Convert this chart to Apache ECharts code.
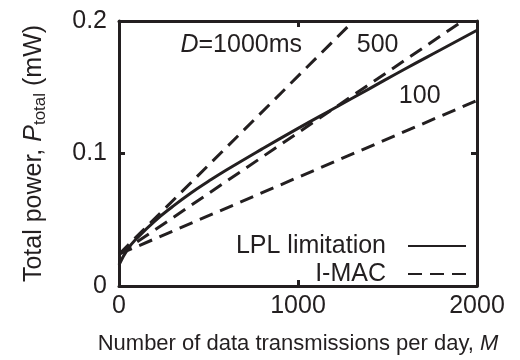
<!DOCTYPE html>
<html>
<head>
<meta charset="utf-8">
<script src="https://cdn.jsdelivr.net/npm/echarts@6/dist/echarts.min.js"></script>
<style>
    html, body { margin: 0; padding: 0; background: #fff; }
    #chart { width: 520px; height: 360px; }
</style>
</head>
<body>
<div id="chart"></div>
<script>
    // LPL limitation (solid curve)
    const lplM = [0, 50, 100, 200, 300, 400, 500, 600, 800, 1000, 1200, 1400, 1600, 1800, 2000]
    const lplP = [0.016, 0.028, 0.036, 0.049, 0.060, 0.070, 0.079, 0.0875, 0.1035, 0.119, 0.134, 0.149, 0.164, 0.1785, 0.193]

    // I-MAC straight lines, end points
    const imac1000M = [0, 1310]
    const imac1000P = [0.024, 0.2]
    const imac500M = [0, 1920]
    const imac500P = [0.024, 0.2]
    const imac100M = [0, 2000]
    const imac100P = [0.024, 0.140]

    const xTicks = [0, 1000, 2000]
    const yTicks = [0, 0.1, 0.2]

    const ink = '#231f20'
    const font = 'Liberation Sans, Arial, sans-serif'
    const dash = [14, 8]

    const pairs = (xs, ys) => xs.map((x, i) => [x, ys[i]])

    const chart = echarts.init(document.getElementById('chart'))

    const axisLine = { show: true, onZero: false, lineStyle: { color: ink, width: 3 } }
    const axisTick = { show: true, inside: true, length: 6, lineStyle: { color: ink, width: 3 } }

    function note (text, x, y) {
        return {
            symbol: 'circle',
            symbolSize: 1,
            itemStyle: { color: 'rgba(0,0,0,0)' },
            data: [{
                coord: [x, y],
                label: {
                    show: true,
                    position: 'inside',
                    formatter: text,
                    color: ink,
                    fontFamily: font,
                    fontSize: 25,
                    rich: {
                        i: { fontStyle: 'italic', fontSize: 25, fontFamily: font, color: ink }
                    }
                }
            }]
        }
    }

    chart.setOption({
        animation: false,
        textStyle: { fontFamily: font, color: ink },
        grid: { left: 119, right: 43, top: 21, bottom: 69, containLabel: false },
        legend: {
            data: ['LPL limitation', 'I-MAC'],
            orient: 'vertical',
            align: 'right',
            right: 48,
            top: 227,
            itemWidth: 58,
            itemHeight: 14,
            itemGap: 0,
            selectedMode: false,
            itemStyle: { opacity: 0 },
            textStyle: { fontFamily: font, fontSize: 25, color: ink, lineHeight: 28, padding: [0, 17, 0, 0] }
        },
        xAxis: [{
            type: 'value',
            min: xTicks[0],
            max: xTicks[xTicks.length - 1],
            interval: 1000,
            position: 'bottom',
            axisLine: axisLine,
            axisTick: axisTick,
            splitLine: { show: false },
            axisLabel: { fontFamily: font, fontSize: 25, color: ink, margin: 8, formatter: v => String(v) },
            name: 'Number of data transmissions per day, {i|M}',
            nameLocation: 'middle',
            nameGap: 47,
            nameTextStyle: {
                fontFamily: font, fontSize: 22, color: ink,
                rich: { i: { fontStyle: 'italic', fontFamily: font, fontSize: 22, color: ink } }
            }
        }, {
            type: 'value',
            min: xTicks[0],
            max: xTicks[xTicks.length - 1],
            interval: 1000,
            position: 'top',
            axisLine: axisLine,
            axisTick: axisTick,
            axisLabel: { show: false },
            splitLine: { show: false }
        }],
        yAxis: [{
            type: 'value',
            min: yTicks[0],
            max: yTicks[yTicks.length - 1],
            interval: 0.1,
            position: 'left',
            axisLine: axisLine,
            axisTick: axisTick,
            splitLine: { show: false },
            axisLabel: { fontFamily: font, fontSize: 25, color: ink, margin: 12 },
            name: 'Total power, {i|P}{sub|total} (mW)',
            nameLocation: 'middle',
            nameRotate: 90,
            nameGap: 70,
            nameTextStyle: {
                fontFamily: font, fontSize: 25, color: ink, lineHeight: 30,
                rich: {
                    i: { fontStyle: 'italic', fontFamily: font, fontSize: 25, color: ink, lineHeight: 30 },
                    sub: { fontFamily: font, fontSize: 17, color: ink, lineHeight: 17, verticalAlign: 'bottom' }
                }
            }
        }, {
            type: 'value',
            min: yTicks[0],
            max: yTicks[yTicks.length - 1],
            interval: 0.1,
            position: 'right',
            axisLine: axisLine,
            axisTick: axisTick,
            axisLabel: { show: false },
            splitLine: { show: false }
        }],
        series: [
            {
                name: 'LPL limitation',
                type: 'line',
                data: pairs(lplM, lplP),
                smooth: 0.5,
                showSymbol: false,
                symbol: 'none',
                color: ink,
                lineStyle: { color: ink, width: 3 },
                z: 3
            },
            {
                name: 'I-MAC',
                type: 'line',
                data: pairs(imac1000M, imac1000P),
                showSymbol: false,
                symbol: 'none',
                color: ink,
                lineStyle: { color: ink, width: 3, type: dash },
                markPoint: note('{i|D}=1000ms', 683, 0.1815)
            },
            {
                name: 'I-MAC',
                type: 'line',
                data: pairs(imac500M, imac500P),
                showSymbol: false,
                symbol: 'none',
                color: ink,
                lineStyle: { color: ink, width: 3, type: dash },
                markPoint: note('500', 1445, 0.182)
            },
            {
                name: 'I-MAC',
                type: 'line',
                data: pairs(imac100M, imac100P),
                showSymbol: false,
                symbol: 'none',
                color: ink,
                lineStyle: { color: ink, width: 3, type: dash },
                markPoint: note('100', 1680, 0.143)
            }
        ]
    })
</script>
</body>
</html>
